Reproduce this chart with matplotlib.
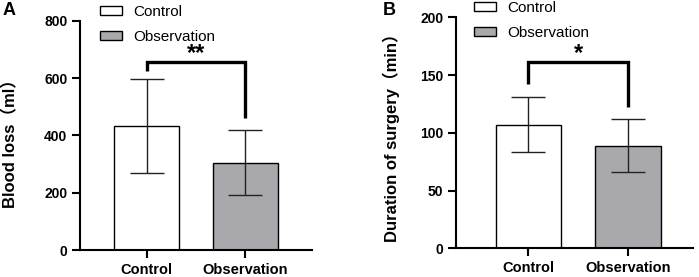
import matplotlib
matplotlib.use("Agg")
import matplotlib.pyplot as plt
from matplotlib.patches import Patch

plt.rcParams['font.family'] = ['Liberation Sans', 'Noto Sans CJK SC', 'DejaVu Sans']

groups = ["Control", "Observation"]
blood_mean = [432, 305]
blood_sd = [163, 113]
surg_mean = [107, 89]
surg_sd = [24, 23]
fills = ["white", "#a9a8ad"]

W, H = 699, 277
fig = plt.figure(figsize=(W / 100, H / 100), dpi=100)


def panel(rect, means, sds, ymax, step, ylabel, label_xy, letter, letter_xy,
          xlim, bracket, stars, leg_xy):
    ax = fig.add_axes(rect)
    x = [0, 1]
    ax.bar(x, means, width=0.655, color=fills, edgecolor="black", linewidth=1.0,
           zorder=2)
    ax.errorbar(x, means, yerr=sds, fmt="none", ecolor="#222222", elinewidth=1.0,
                capsize=12, capthick=1.0, zorder=3)
    ax.set_xlim(*xlim)
    ax.set_ylim(0, ymax)
    ax.set_yticks(range(0, ymax + 1, step))
    ax.set_xticks(x)
    ax.set_xticklabels(groups, fontsize=10.5, fontweight="bold")
    for t in ax.get_yticklabels():
        t.set_fontsize(10)
        t.set_fontweight("bold")
    for s in ["top", "right"]:
        ax.spines[s].set_visible(False)
    for s in ["left", "bottom"]:
        ax.spines[s].set_linewidth(1.5)
    ax.tick_params(axis="both", width=1.5, length=6, direction="out", pad=3)
    ax.set_ylabel(ylabel, fontsize=12, fontweight="bold")
    ax.yaxis.set_label_coords(*label_xy)
    # significance bracket
    top, lleg, rleg = bracket
    ax.plot([0, 0, 1, 1], [lleg, top, top, rleg], color="black", lw=2.4,
            solid_capstyle="butt", solid_joinstyle="miter", zorder=4,
            clip_on=False)
    ax.annotate(stars, (0.5, top), xytext=(0, 1), textcoords="offset points",
                ha="center", va="baseline", fontsize=17, fontweight="bold")
    handles = [Patch(facecolor=c, edgecolor="black", linewidth=1.0) for c in fills]
    ax.legend(handles, groups, loc="upper left", bbox_to_anchor=leg_xy,
              bbox_transform=fig.transFigure, frameon=False, fontsize=11,
              handlelength=1.45, handleheight=0.6, handletextpad=0.7,
              labelspacing=0.72, borderaxespad=0, borderpad=0)
    fig.text(letter_xy[0], letter_xy[1], letter, fontsize=13, fontweight="bold",
             ha="left", va="top")
    return ax


panel([80 / W, 1 - 250 / H, 232 / W, 229.3 / H], blood_mean, blood_sd, 800, 200,
      "Blood loss（ml）", (-0.267, 0.48), "A", (3 / W, 1 - 2 / H),
      (-0.672, 1.672), (657, 625, 461), "**", (100 / W, 1 - 5 / H))

panel([456 / W, 1 - 248.3 / H, 237 / W, 231 / H], surg_mean, surg_sd, 200, 50,
      "Duration of surgery（min）", (-0.237, 0.495), "B", (383 / W, 1 - 2 / H),
      (-0.725, 1.65), (161.6, 142.6, 122.6), "*", (474 / W, 1 - 1 / H))

fig.savefig("out.png", dpi=100)
